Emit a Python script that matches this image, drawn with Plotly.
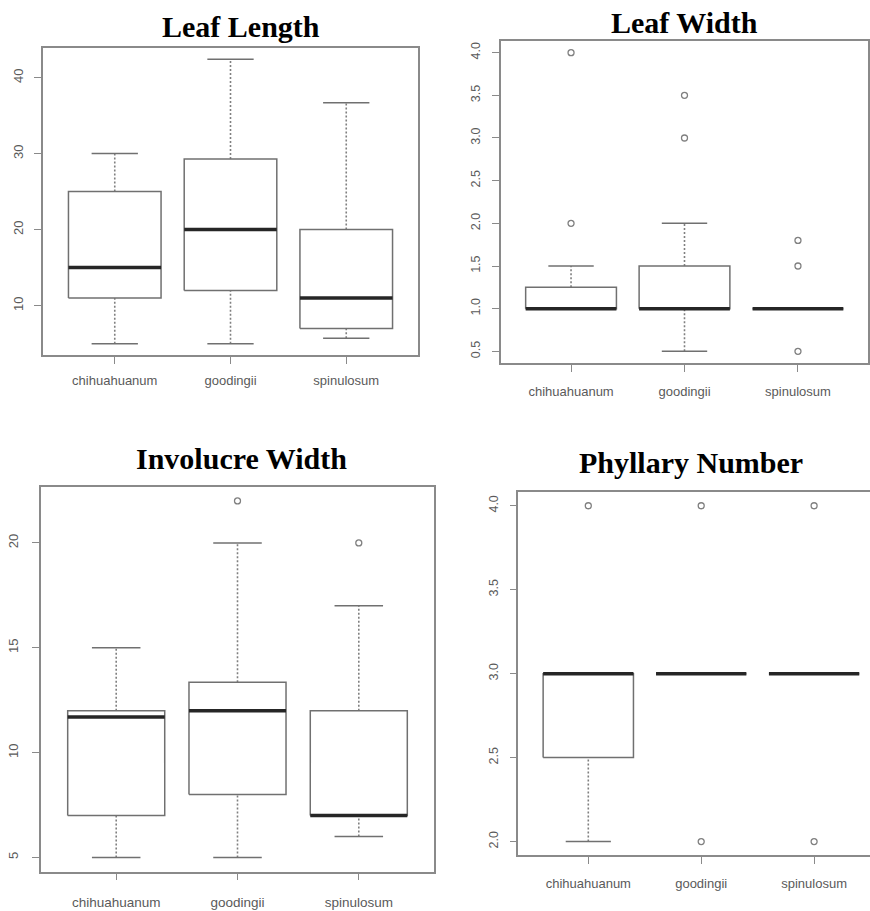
import plotly.graph_objects as go

# ---------------- data ----------------
categories = ["chihuahuanum", "goodingii", "spinulosum"]

# Leaf Length
ll_lower = [5.0, 5.0, 5.7]
ll_q1 = [11.0, 12.0, 7.0]
ll_median = [15.0, 20.0, 11.0]
ll_q3 = [25.0, 29.3, 20.0]
ll_upper = [30.0, 42.4, 36.7]
ll_outliers = [[], [], []]
ll_ticks = [10, 20, 30, 40]
ll_ticktext = ["10", "20", "30", "40"]

# Leaf Width
lw_lower = [1.0, 0.5, 1.0]
lw_q1 = [1.0, 1.0, 1.0]
lw_median = [1.0, 1.0, 1.0]
lw_q3 = [1.25, 1.5, 1.0]
lw_upper = [1.5, 2.0, 1.0]
lw_outliers = [[2.0, 4.0], [3.0, 3.5], [0.5, 1.5, 1.8]]
lw_ticks = [0.5, 1.0, 1.5, 2.0, 2.5, 3.0, 3.5, 4.0]
lw_ticktext = ["0.5", "1.0", "1.5", "2.0", "2.5", "3.0", "3.5", "4.0"]

# Involucre Width
iw_lower = [5.0, 5.0, 6.0]
iw_q1 = [7.0, 8.0, 7.0]
iw_median = [11.7, 12.0, 7.0]
iw_q3 = [12.0, 13.35, 12.0]
iw_upper = [15.0, 20.0, 17.0]
iw_outliers = [[], [22.0], [20.0]]
iw_ticks = [5, 10, 15, 20]
iw_ticktext = ["5", "10", "15", "20"]

# Phyllary Number
pn_lower = [2.0, 3.0, 3.0]
pn_q1 = [2.5, 3.0, 3.0]
pn_median = [3.0, 3.0, 3.0]
pn_q3 = [3.0, 3.0, 3.0]
pn_upper = [3.0, 3.0, 3.0]
pn_outliers = [[4.0], [2.0, 4.0], [2.0, 4.0]]
pn_ticks = [2.0, 2.5, 3.0, 3.5, 4.0]
pn_ticktext = ["2.0", "2.5", "3.0", "3.5", "4.0"]

titles = ["Leaf Length", "Leaf Width", "Involucre Width", "Phyllary Number"]

# ---------------- layout constants ----------------
W, H = 870, 911
# pixel boxes (left, right, top, bottom)
panels_px = [
    (43, 418, 48, 355),
    (500.7, 868.3, 40.7, 363.3),
    (41, 434, 486.7, 871.7),
    (518.3, 870, 492.3, 855),
]
title_px = [(241, 27), (684, 22), (242, 458), (691, 462)]
x_right_end = [3.62, 3.62, 3.62, 0.38 + (870 - 518.3) / 112.9]
x_label_standoff = [6, 8, 10, 9]
y_label_standoff = [6, 7, 9, 7]
x_font = [13, 13, 13.5, 13]
y_font = [13, 12.5, 13, 12.5]

BOX_HALF = 0.4
CAP_HALF = 0.2
LINE_COL = "#707070"
MED_COL = "#262626"
FRAME_COL = "#8a8a8a"
TICK_TXT = "#5a5a5a"

datasets = [
    (ll_lower, ll_q1, ll_median, ll_q3, ll_upper, ll_outliers, ll_ticks, ll_ticktext),
    (lw_lower, lw_q1, lw_median, lw_q3, lw_upper, lw_outliers, lw_ticks, lw_ticktext),
    (iw_lower, iw_q1, iw_median, iw_q3, iw_upper, iw_outliers, iw_ticks, iw_ticktext),
    (pn_lower, pn_q1, pn_median, pn_q3, pn_upper, pn_outliers, pn_ticks, pn_ticktext),
]

fig = go.Figure()
annotations = []

for p, (lo, q1, med, q3, hi, outl, tv, tt) in enumerate(datasets):
    n = p + 1
    xa = "x" if n == 1 else f"x{n}"
    ya = "y" if n == 1 else f"y{n}"
    for i in range(len(categories)):
        c = i + 1
        # whiskers (dashed)
        fig.add_trace(go.Scatter(
            x=[c, c, None, c, c], y=[lo[i], q1[i], None, q3[i], hi[i]],
            mode="lines", line=dict(color="#808080", width=1.6, dash="2px,2px"),
            xaxis=xa, yaxis=ya, showlegend=False, hoverinfo="skip"))
        # caps
        fig.add_trace(go.Scatter(
            x=[c - CAP_HALF, c + CAP_HALF, None, c - CAP_HALF, c + CAP_HALF],
            y=[lo[i], lo[i], None, hi[i], hi[i]],
            mode="lines", line=dict(color=LINE_COL, width=1.5),
            xaxis=xa, yaxis=ya, showlegend=False, hoverinfo="skip"))
        # box
        fig.add_trace(go.Scatter(
            x=[c - BOX_HALF, c + BOX_HALF, c + BOX_HALF, c - BOX_HALF, c - BOX_HALF],
            y=[q1[i], q1[i], q3[i], q3[i], q1[i]],
            mode="lines", line=dict(color=LINE_COL, width=1.5),
            fill="toself", fillcolor="white",
            xaxis=xa, yaxis=ya, showlegend=False, hoverinfo="skip"))
        # median
        fig.add_trace(go.Scatter(
            x=[c - BOX_HALF, c + BOX_HALF], y=[med[i], med[i]],
            mode="lines", line=dict(color=MED_COL, width=3.5),
            xaxis=xa, yaxis=ya, showlegend=False, hoverinfo="skip"))
        # outliers
        if outl[i]:
            fig.add_trace(go.Scatter(
                x=[c] * len(outl[i]), y=outl[i], mode="markers",
                marker=dict(symbol="circle-open", size=6, color="#808080",
                            line=dict(width=1.3, color="#808080")),
                xaxis=xa, yaxis=ya, showlegend=False, hoverinfo="skip"))

    allv = lo + hi + [v for o in outl for v in o]
    vmin, vmax = min(allv), max(allv)
    ext = 0.04 * (vmax - vmin)

    L, R, T, B = panels_px[p]
    xdom = [L / W, R / W]
    ydom = [1 - B / H, 1 - T / H]
    xkey = "xaxis" if n == 1 else f"xaxis{n}"
    ykey = "yaxis" if n == 1 else f"yaxis{n}"
    fig.update_layout(**{
        xkey: dict(
            domain=xdom, anchor=ya, range=[0.38, x_right_end[p]],
            tickmode="array", tickvals=[1, 2, 3], ticktext=categories,
            showline=True, mirror=True, linecolor=FRAME_COL, linewidth=1.5,
            ticks="outside", ticklen=7, tickwidth=1.3, tickcolor=FRAME_COL,
            tickfont=dict(family="Liberation Sans, Arial", size=x_font[p], color=TICK_TXT),
            ticklabelstandoff=x_label_standoff[p],
            showgrid=False, zeroline=False, automargin=False, fixedrange=True),
        ykey: dict(
            domain=ydom, anchor=xa, range=[vmin - ext, vmax + ext],
            tickmode="array", tickvals=tv, ticktext=tt, tickangle=-90,
            showline=True, mirror=(p != 3), linecolor=FRAME_COL, linewidth=1.5,
            ticks="outside", ticklen=7, tickwidth=1.3, tickcolor=FRAME_COL,
            tickfont=dict(family="Liberation Sans, Arial", size=y_font[p], color=TICK_TXT),
            ticklabelstandoff=y_label_standoff[p],
            showgrid=False, zeroline=False, automargin=False, fixedrange=True),
    })

    tx, ty = title_px[p]
    annotations.append(dict(
        text=f"<b>{titles[p]}</b>", x=tx / W, y=1 - ty / H, xref="paper", yref="paper",
        xanchor="center", yanchor="middle", showarrow=False,
        font=dict(family="Liberation Serif, Times New Roman", size=30, color="black")))

fig.update_layout(
    width=W, height=H, margin=dict(l=0, r=0, t=0, b=0),
    paper_bgcolor="white", plot_bgcolor="white",
    annotations=annotations, showlegend=False,
)

fig.write_html("out.html")
